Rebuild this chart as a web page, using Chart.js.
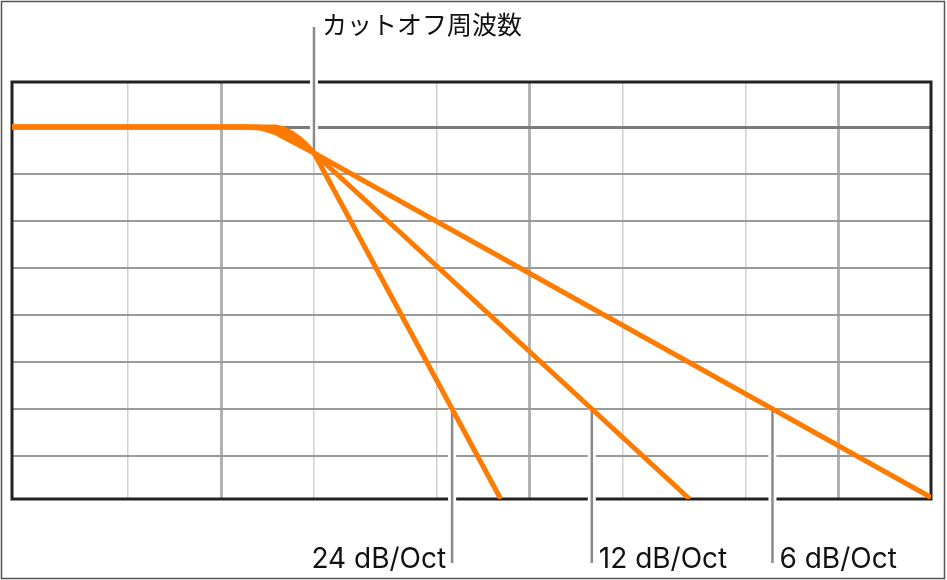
<!DOCTYPE html>
<html lang="ja">
<head>
<meta charset="utf-8">
<title>カットオフ周波数</title>
<script src="https://cdn.jsdelivr.net/npm/chart.js@4/dist/chart.umd.min.js"></script>
<style>
  html, body { margin: 0; padding: 0; background: #fff; }
  #wrap { width: 947px; height: 580px; }
</style>
</head>
<body>
<div id="wrap"><canvas id="filterChart" width="947" height="580"></canvas></div>
<script>
// Slope names, in the order the labels run left to right
const slopeNames = ['24 dB/Oct', '12 dB/Oct', '6 dB/Oct'];
const cutoffName = 'カットオフ周波数';
const cutoffFreq = 200;   // Hz
const labelLevel = -36;   // dB, where the slope labels hang from

// Response curves (Hz / dB)
const freq24 = [21, 150, 160, 170, 180, 190, 200, 806];
const gain24 = [0, 0, -0.25, -0.8, -1.5, -2.35, -3.32, -47.5];
const freq12 = [21, 130, 145, 160, 175, 190, 200, 3300];
const gain12 = [0, 0, -0.2, -0.75, -1.6, -2.6, -3.32, -47.5];
const freq6 = [21, 120, 135, 150, 165, 180, 200, 20000];
const gain6 = [0, 0, -0.15, -0.7, -1.6, -2.35, -3.32, -47.3];

// Grid
const xGridTicks = [50, 100, 200, 500, 1000, 2000, 5000, 10000];
const xDecades = [100, 1000, 10000];
const yGridTicks = [0, -6, -12, -18, -24, -30, -36, -42];

const ORANGE = '#ff7b00';
const LABEL_FONT = '28px Inter, "Liberation Sans", sans-serif';
const CJK_FONT = '25px "Noto Sans CJK JP", sans-serif';

function toPoints(freqs, gains) {
  return freqs.map((f, i) => ({ x: f, y: gains[i] }));
}

// pixel where a curve crosses a given dB level
function crossing(scales, freqs, gains, level) {
  const ly = scales.y.getPixelForValue(level);
  for (let i = 0; i < freqs.length - 1; i++) {
    if (gains[i] >= level && gains[i + 1] < level) {
      const x1 = scales.x.getPixelForValue(freqs[i]);
      const x2 = scales.x.getPixelForValue(freqs[i + 1]);
      const y1 = scales.y.getPixelForValue(gains[i]);
      const y2 = scales.y.getPixelForValue(gains[i + 1]);
      const t = (ly - y1) / (y2 - y1);
      return { x: x1 + t * (x2 - x1), y: ly };
    }
  }
  return null;
}

function drawLeader(ctx, x, yTop, yBottom) {
  ctx.lineCap = 'butt';
  ctx.strokeStyle = '#ffffff';
  ctx.lineWidth = 8;
  ctx.beginPath(); ctx.moveTo(x, yTop); ctx.lineTo(x, yBottom); ctx.stroke();
  ctx.strokeStyle = '#8a8a8a';
  ctx.lineWidth = 2.5;
  ctx.beginPath(); ctx.moveTo(x, yTop); ctx.lineTo(x, yBottom); ctx.stroke();
}

// Frame, plot border, leader lines and their texts
const annotatePlugin = {
  id: 'annotate',
  beforeDatasetsDraw(chart) {
    const { ctx, chartArea: a, scales } = chart;
    ctx.save();
    ctx.strokeStyle = '#555';
    ctx.lineWidth = 1.5;
    ctx.strokeRect(1.5, 1.5, chart.width - 4, chart.height - 3);

    ctx.strokeStyle = '#222';
    ctx.lineWidth = 3;
    ctx.strokeRect(a.left, a.top, a.right - a.left, a.bottom - a.top);

    // cutoff leader
    const cx = scales.x.getPixelForValue(cutoffFreq);
    const cy = scales.y.getPixelForValue(gain6[freq6.indexOf(cutoffFreq)]);
    drawLeader(ctx, cx, 27, cy);

    ctx.fillStyle = '#111';
    ctx.font = CJK_FONT;
    ctx.textAlign = 'left';
    ctx.textBaseline = 'middle';
    ctx.fillText(cutoffName, cx + 8, 24);

    // slope leaders
    const curves = [[freq24, gain24], [freq12, gain12], [freq6, gain6]];
    const bottom = chart.height - 17;
    ctx.font = LABEL_FONT;
    ctx.textBaseline = 'alphabetic';
    curves.forEach(([f, g], i) => {
      const p = crossing(scales, f, g, labelLevel);
      if (!p) return;
      drawLeader(ctx, p.x, p.y, bottom);
      if (i === 0) {
        ctx.textAlign = 'right';
        ctx.fillText(slopeNames[i], p.x - 6, chart.height - 12);
      } else {
        ctx.textAlign = 'left';
        ctx.fillText(slopeNames[i], p.x + 7, chart.height - 12);
      }
    });
    ctx.restore();
  }
};

function makeDataset(label, freqs, gains) {
  return {
    label: label,
    data: toPoints(freqs, gains),
    borderColor: ORANGE,
    borderWidth: 5,
    borderJoinStyle: 'round',
    pointRadius: 0,
    tension: 0,
    clip: { left: 3, top: 0, right: 0, bottom: 0 }
  };
}

new Chart(document.getElementById('filterChart'), {
  type: 'line',
  data: {
    datasets: [
      makeDataset(slopeNames[0], freq24, gain24),
      makeDataset(slopeNames[1], freq12, gain12),
      makeDataset(slopeNames[2], freq6, gain6)
    ]
  },
  options: {
    responsive: false,
    animation: false,
    events: [],
    layout: { padding: { left: 12, top: 82, right: 16, bottom: 81 } },
    plugins: { legend: { display: false }, tooltip: { enabled: false } },
    scales: {
      x: {
        type: 'logarithmic',
        min: 21,
        max: 20000,
        afterBuildTicks: (axis) => { axis.ticks = xGridTicks.map(v => ({ value: v })); },
        ticks: { display: false },
        border: { display: false },
        grid: {
          drawTicks: false,
          color: (c) => (c.tick && xDecades.includes(c.tick.value)) ? '#b2b2b2' : '#d0d0d0',
          lineWidth: (c) => (c.tick && xDecades.includes(c.tick.value)) ? 3 : 1.5
        }
      },
      y: {
        min: -47.5,
        max: 5.75,
        afterBuildTicks: (axis) => { axis.ticks = yGridTicks.map(v => ({ value: v })); },
        ticks: { display: false },
        border: { display: false },
        grid: {
          drawTicks: false,
          color: (c) => (c.tick && c.tick.value === 0) ? '#7a7a7a' : '#9a9a9a',
          lineWidth: (c) => (c.tick && c.tick.value === 0) ? 3 : 2
        }
      }
    }
  },
  plugins: [annotatePlugin]
});
</script>
</body>
</html>
